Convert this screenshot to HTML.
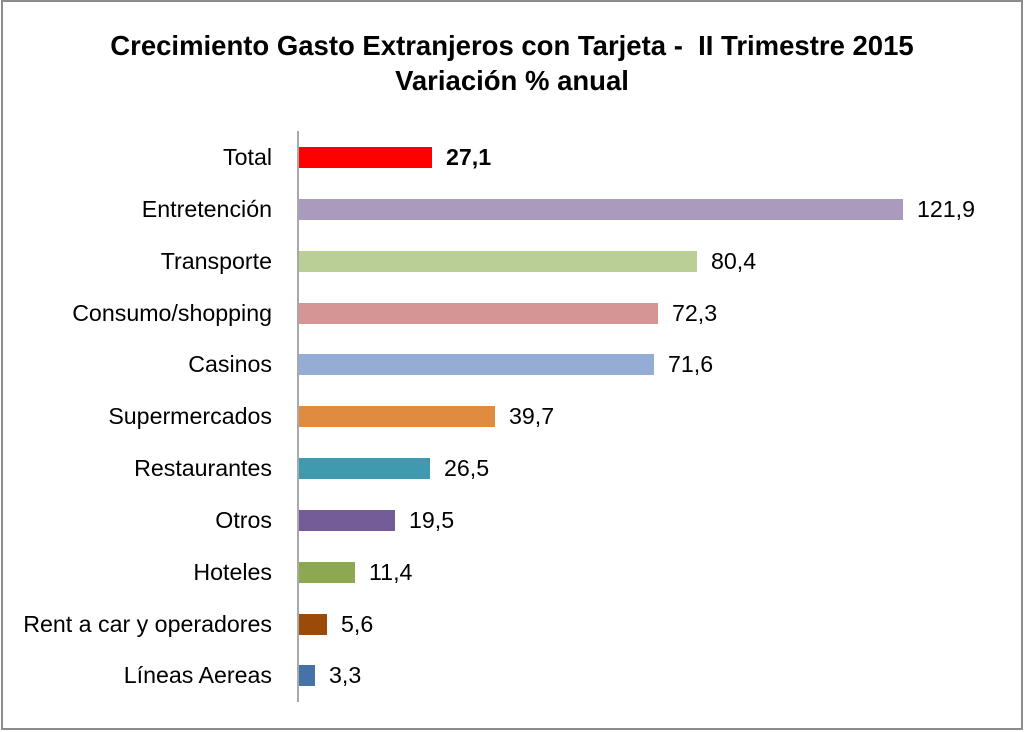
<!DOCTYPE html>
<html><head><meta charset="utf-8"><style>
html,body{margin:0;padding:0;background:#fff}
svg{display:block}
text{font-family:"Liberation Sans",sans-serif;fill:#000}
</style></head><body>
<svg width="1024" height="732" viewBox="0 0 1024 732">
<rect x="2" y="1" width="1020" height="728" fill="#fff" stroke="#8c8c8c" stroke-width="2"/>
<text x="512" y="55" text-anchor="middle" font-size="27.5" font-weight="bold" xml:space="preserve">Crecimiento Gasto Extranjeros con Tarjeta -  II Trimestre 2015</text>
<text x="512" y="90" text-anchor="middle" font-size="27.5" font-weight="bold">Variación % anual</text>
<line x1="298" y1="131" x2="298" y2="702" stroke="#8c8c8c" stroke-width="1.5"/>
<g font-size="23.2">
<rect x="299" y="147" width="133" height="21" fill="#ff0000"/>
<text x="272" y="165" text-anchor="end">Total</text><text x="446" y="165" font-weight="bold">27,1</text>
<rect x="299" y="199" width="604" height="21" fill="#a99bbd"/>
<text x="272" y="217" text-anchor="end">Entretención</text><text x="917" y="217">121,9</text>
<rect x="299" y="251" width="398" height="21" fill="#b9cf96"/>
<text x="272" y="269" text-anchor="end">Transporte</text><text x="711" y="269">80,4</text>
<rect x="299" y="303" width="359" height="21" fill="#d69595"/>
<text x="272" y="321" text-anchor="end">Consumo/shopping</text><text x="672" y="321">72,3</text>
<rect x="299" y="354" width="355" height="21" fill="#95add5"/>
<text x="272" y="372" text-anchor="end">Casinos</text><text x="668" y="372">71,6</text>
<rect x="299" y="406" width="196" height="21" fill="#e08c40"/>
<text x="272" y="424" text-anchor="end">Supermercados</text><text x="509" y="424">39,7</text>
<rect x="299" y="458" width="131" height="21" fill="#4099af"/>
<text x="272" y="476" text-anchor="end">Restaurantes</text><text x="444" y="476">26,5</text>
<rect x="299" y="510" width="96" height="21" fill="#735c98"/>
<text x="272" y="528" text-anchor="end">Otros</text><text x="409" y="528">19,5</text>
<rect x="299" y="562" width="56" height="21" fill="#8ca850"/>
<text x="272" y="580" text-anchor="end">Hoteles</text><text x="369" y="580">11,4</text>
<rect x="299" y="614" width="28" height="21" fill="#9b4a0a"/>
<text x="272" y="632" text-anchor="end">Rent a car y operadores</text><text x="341" y="632">5,6</text>
<rect x="299" y="665" width="16" height="21" fill="#4572a7"/>
<text x="272" y="683" text-anchor="end">Líneas Aereas</text><text x="329" y="683">3,3</text>
</g>
</svg>
</body></html>
